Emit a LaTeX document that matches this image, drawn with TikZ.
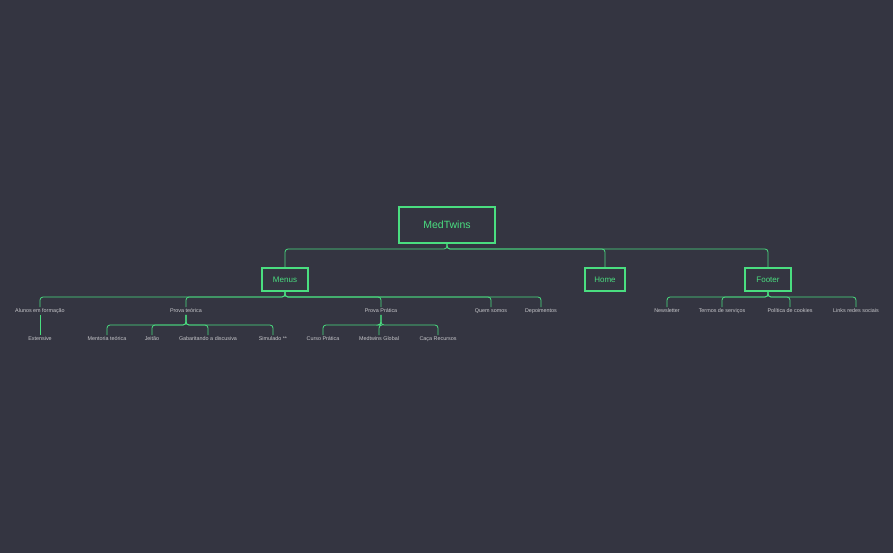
\documentclass[tikz,border=0pt]{standalone}
\usepackage{fontspec}
\setmainfont{Liberation Sans}
\begin{document}
\begin{tikzpicture}[x=1pt,y=-1pt,
  box/.style={draw=green!80!black!70!white, draw=mgreen, line width=1.2pt, text=mgreen, inner sep=0pt, minimum height=23pt, font=\fontsize{8}{9}\selectfont},
  leaf/.style={text=lgray, inner sep=1pt, font=\fontsize{5.4}{6}\selectfont, text height=4.5pt, text depth=1pt},
  conn/.style={draw=mgreen, line width=0.8pt, rounded corners=3pt}]
\definecolor{bg}{HTML}{343541}
\definecolor{mgreen}{HTML}{4ADE80}
\definecolor{lgray}{HTML}{C8C8CC}
\fill[bg] (0,0) rectangle (893,553);
\useasboundingbox (0,0) rectangle (893,553);
\node[box, minimum width=96pt, minimum height=36pt, line width=1.6pt, font=\fontsize{10.5}{12}\selectfont] (root) at (447,225) {MedTwins};
\node[box, minimum width=46pt] (menus) at (285,279.5) {Menus};
\node[box, minimum width=40pt] (home) at (605,279.5) {Home};
\node[box, minimum width=46pt] (footer) at (768,279.5) {Footer};
\foreach \c in {menus,home,footer}
  \draw[conn] (root.south) -- (root.south |- 0,249) -| (\c.north);
% menus children
\node[leaf] (alunos) at (40,311) {Alunos em formação};
\node[leaf] (teor) at (186,311) {Prova teórica};
\node[leaf] (prat) at (381,311) {Prova Prática};
\node[leaf] (quem) at (491,311) {Quem somos};
\node[leaf] (dep) at (541,311) {Depoimentos};
\foreach \c in {alunos,teor,prat,quem,dep}
  \draw[conn] (menus.south) -- (menus.south |- 0,297) -| (\c.north);
% footer children
\node[leaf] (news) at (667,311) {Newsletter};
\node[leaf] (termos) at (722,311) {Termos de serviços};
\node[leaf] (pol) at (790,311) {Política de cookies};
\node[leaf] (links) at (856,311) {Links redes sociais};
\foreach \c in {news,termos,pol,links}
  \draw[conn] (footer.south) -- (footer.south |- 0,297) -| (\c.north);
% third level
\node[leaf] (ext) at (40,339) {Extensive};
\draw[conn] (alunos.south) -- (ext.north);
\node[leaf] (ment) at (107,339) {Mentoria teórica};
\node[leaf] (jeit) at (152,339) {Jeitão};
\node[leaf] (gab) at (208,339) {Gabaritando a discusiva};
\node[leaf] (sim) at (273,339) {Simulado **};
\foreach \c in {ment,jeit,gab,sim}
  \draw[conn] (teor.south) -- (teor.south |- 0,325) -| (\c.north);
\node[leaf] (curso) at (323,339) {Curso Prática};
\node[leaf] (glob) at (379,339) {Medtwins Global};
\node[leaf] (caca) at (438,339) {Caça Recursos};
\foreach \c in {curso,glob,caca}
  \draw[conn] (prat.south) -- (prat.south |- 0,325) -| (\c.north);
\end{tikzpicture}
\end{document}
